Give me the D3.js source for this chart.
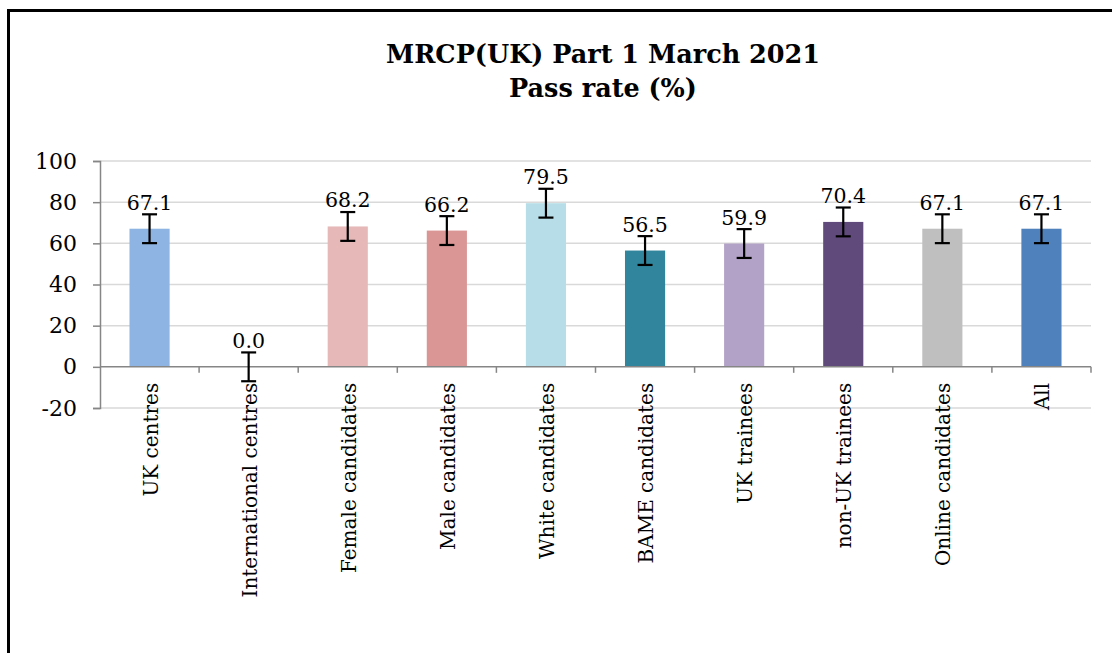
<!DOCTYPE html>
<html>
<head>
<meta charset="utf-8">
<script src="https://cdn.jsdelivr.net/npm/d3@7.9.0/dist/d3.min.js"></script>
<style>
  body { margin: 0; background: #fff; }
  svg { font-family: 'DejaVu Serif', serif; }
</style>
</head>
<body>
<svg id="chart"></svg>
<script>
// values
const categories = [
  'UK centres', 'International centres', 'Female candidates', 'Male candidates',
  'White candidates', 'BAME candidates', 'UK trainees', 'non-UK trainees',
  'Online candidates', 'All'
];
const passRates = [67.1, 0.0, 68.2, 66.2, 79.5, 56.5, 59.9, 70.4, 67.1, 67.1];
const errorSize = [7, 7, 7, 7, 7, 7, 7, 7, 7, 7];
const barColors = [
  '#8EB4E3', '#8EB4E3', '#E6B9B8', '#D99694', '#B7DEE8',
  '#31859C', '#B3A2C7', '#604A7B', '#BFBFBF', '#4F81BD'
];
const yTicks = [-20, 0, 20, 40, 60, 80, 100];
const titleLines = ['MRCP(UK) Part 1 March 2021', 'Pass rate (%)'];

const width = 1112;
const height = 653;
const margin = { top: 161, right: 21, bottom: 245, left: 100 };

const svg = d3.select('#chart').attr('width', width).attr('height', height);

// outer frame (only top and left edges show)
svg.append('rect')
  .attr('x', 8.5).attr('y', 10.5)
  .attr('width', width + 20).attr('height', height + 20)
  .attr('fill', 'none').attr('stroke', '#000').attr('stroke-width', 3);

const x = d3.scaleBand()
  .domain(categories)
  .range([margin.left, width - margin.right])
  .paddingInner(0.595)
  .paddingOuter(0.2975);

const y = d3.scaleLinear()
  .domain([-20, 100])
  .range([height - margin.bottom, margin.top]);

// title
svg.append('text')
  .attr('x', 603).attr('y', 63)
  .attr('text-anchor', 'middle')
  .attr('font-weight', 'bold')
  .attr('font-size', 25.5)
  .selectAll('tspan')
  .data(titleLines)
  .join('tspan')
  .attr('x', 603)
  .attr('dy', (d, i) => (i === 0 ? 0 : 34))
  .text((d) => d);

// gridlines
svg.append('g')
  .selectAll('line')
  .data(yTicks.filter((t) => t !== 0))
  .join('line')
  .attr('x1', margin.left).attr('x2', width - margin.right)
  .attr('y1', (d) => y(d)).attr('y2', (d) => y(d))
  .attr('stroke', '#D9D9D9').attr('stroke-width', 1.5);

// y axis
const yAxis = d3.axisLeft(y)
  .tickValues(yTicks)
  .tickFormat((d) => String(d))
  .tickSize(7)
  .tickPadding(16);
const gy = svg.append('g')
  .attr('transform', `translate(${margin.left},0)`)
  .call(yAxis);
gy.select('.domain').attr('stroke', '#868686').attr('stroke-width', 1.5);
gy.selectAll('.tick line').attr('stroke', '#868686').attr('stroke-width', 1.5);
gy.selectAll('.tick text')
  .attr('font-family', 'DejaVu Serif').attr('font-size', 22).attr('fill', '#000');

// bars
svg.append('g')
  .selectAll('rect')
  .data(passRates)
  .join('rect')
  .attr('x', (d, i) => x(categories[i]))
  .attr('y', (d) => y(d))
  .attr('width', x.bandwidth())
  .attr('height', (d) => y(0) - y(d))
  .attr('fill', (d, i) => barColors[i]);

// x axis line at zero with ticks between categories
const step = x.step();
const boundaries = d3.range(categories.length + 1).map((i) => margin.left + i * step);
svg.append('line')
  .attr('x1', margin.left).attr('x2', width - margin.right)
  .attr('y1', y(0)).attr('y2', y(0))
  .attr('stroke', '#868686').attr('stroke-width', 1.5);
svg.append('g')
  .selectAll('line')
  .data(boundaries.slice(1))
  .join('line')
  .attr('x1', (d) => d).attr('x2', (d) => d)
  .attr('y1', y(0)).attr('y2', y(0) + 6)
  .attr('stroke', '#868686').attr('stroke-width', 1.5);

// error bars
const cx = (i) => x(categories[i]) + x.bandwidth() / 2;
const eb = svg.append('g').attr('stroke', '#000').attr('stroke-width', 2.2);
passRates.forEach((v, i) => {
  const hi = y(v + errorSize[i]);
  const lo = y(v - errorSize[i]);
  eb.append('line').attr('x1', cx(i)).attr('x2', cx(i)).attr('y1', hi).attr('y2', lo);
  eb.append('line').attr('x1', cx(i) - 7.5).attr('x2', cx(i) + 7.5).attr('y1', hi).attr('y2', hi);
  eb.append('line').attr('x1', cx(i) - 7.5).attr('x2', cx(i) + 7.5).attr('y1', lo).attr('y2', lo);
});

// data labels
svg.append('g')
  .selectAll('text')
  .data(passRates)
  .join('text')
  .attr('x', (d, i) => cx(i))
  .attr('y', (d) => y(Math.max(d, 0)) - 19)
  .attr('text-anchor', 'middle')
  .attr('font-size', 20.5)
  .text((d) => d.toFixed(1));

// category labels
svg.append('g')
  .selectAll('text')
  .data(categories)
  .join('text')
  .attr('transform', (d, i) => `translate(${cx(i) + 8},${y(0) + 16}) rotate(-90)`)
  .attr('text-anchor', 'end')
  .attr('font-size', 20)
  .text((d) => d);
</script>
</body>
</html>
